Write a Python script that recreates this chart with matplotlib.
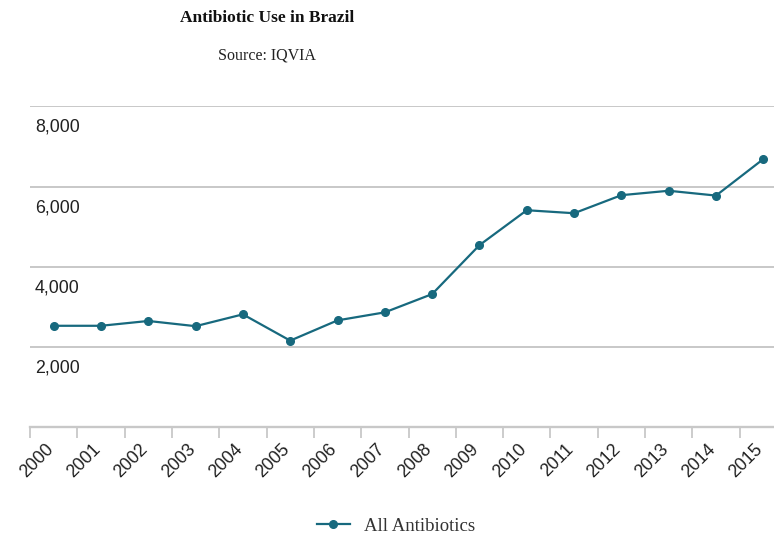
import matplotlib.pyplot as plt
from matplotlib.transforms import ScaledTranslation, blended_transform_factory

# ── data ─────────────────────────────────────────────────────────────────────
years = ['2000', '2001', '2002', '2003', '2004', '2005', '2006', '2007',
         '2008', '2009', '2010', '2011', '2012', '2013', '2014', '2015']
antibiotics = [2530, 2530, 2650, 2520, 2815, 2160, 2665, 2865,
               3320, 4540, 5410, 5335, 5785, 5895, 5775, 6685]
y_ticks = [2000, 4000, 6000, 8000]

teal = '#17697e'
grid_gray = '#c8c8c8'
label_color = '#222222'

fig = plt.figure(figsize=(7.74, 5.36), dpi=100)
# plot area runs a little past the right edge of the canvas
ax = fig.add_axes([30 / 774, 108.7 / 536, 757 / 774, 321 / 536])

x = list(range(len(years)))
line, = ax.plot(x, antibiotics, color=teal, linewidth=1.6, marker='o',
                markersize=5.5, label='All Antibiotics', zorder=3)

ax.set_xlim(-0.5, len(years) - 0.5)
ax.set_ylim(0, 8000)

# horizontal grid only, bottom axis line
ax.set_yticks([0] + y_ticks)
ax.yaxis.grid(True, color=grid_gray, linewidth=1.4)
ax.tick_params(axis='y', length=0, labelleft=False)
for side in ['top', 'right', 'left']:
    ax.spines[side].set_visible(False)
ax.spines['bottom'].set_color(grid_gray)
ax.spines['bottom'].set_linewidth(1.7)

# y labels sit just under their gridlines
trans = blended_transform_factory(ax.transAxes, ax.transData) + \
    ScaledTranslation(5 / 100, -21 / 100, fig.dpi_scale_trans)
for v in y_ticks:
    ax.text(0, v, f'{v:,}', transform=trans, ha='left', va='center',
            fontsize=12.8, color=label_color, family='Liberation Sans')

# category boundaries get the tick marks, labels at the centres
ax.set_xticks(x)
ax.set_xticklabels(years, rotation=45, ha='right', va='center',
                   rotation_mode='anchor', fontsize=12.8, color=label_color,
                   family='Liberation Sans')
ax.tick_params(axis='x', which='major', length=0, pad=14)
ax.set_xticks([i - 0.5 for i in range(len(years) + 1)], minor=True)
ax.tick_params(axis='x', which='minor', length=8, width=1.3, color=grid_gray)
label_shift = ScaledTranslation(-3 / 100, 0, fig.dpi_scale_trans)
for lbl in ax.get_xticklabels():
    lbl.set_transform(lbl.get_transform() + label_shift)

fig.text(267 / 774, 1 - 18 / 536, 'Antibiotic Use in Brazil', ha='center',
         va='center', fontsize=12.5, fontweight='bold', family='Liberation Serif',
         color='#111111')
fig.text(267 / 774, 1 - 55 / 536, 'Source: IQVIA', ha='center', va='center',
         fontsize=11.5, family='Liberation Serif', color='#222222')

fig.legend(handles=[line], loc='center', bbox_to_anchor=(396 / 774, 1 - 526 / 536),
           frameon=False, handlelength=1.75, handletextpad=0.75,
           prop={'family': 'Liberation Serif', 'size': 13.5}, labelcolor='#333333')

fig.savefig('out.png', dpi=100)
